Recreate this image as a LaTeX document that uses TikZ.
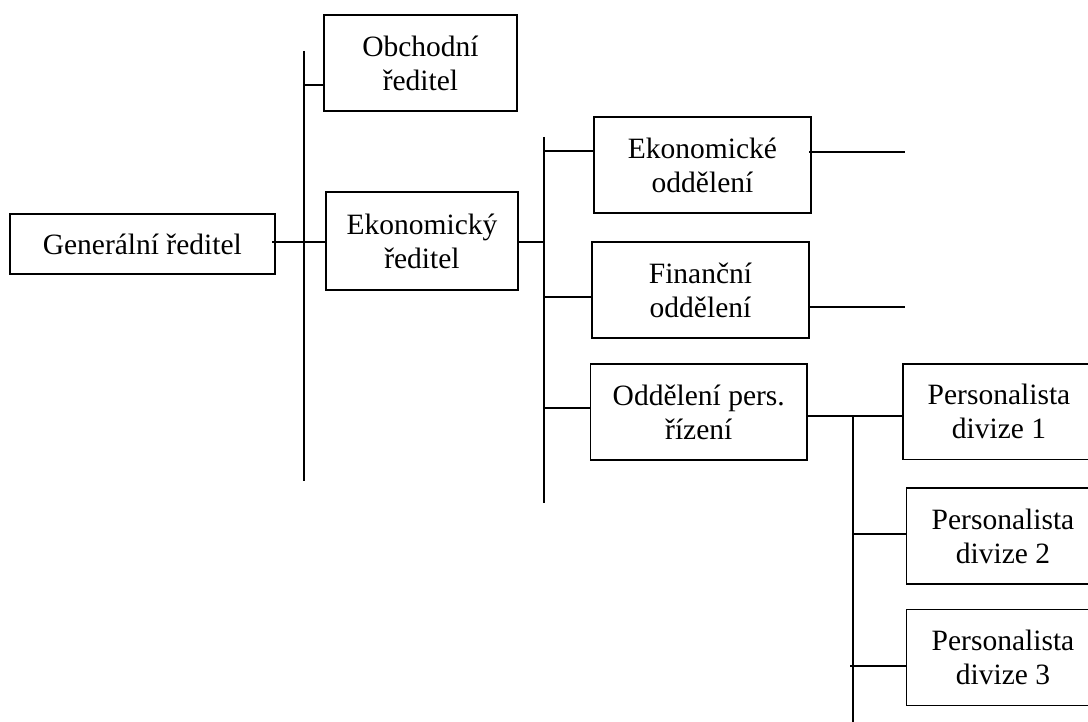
\documentclass[tikz,border=0pt]{standalone}
\usepackage{fontspec}
\setmainfont{Liberation Serif}
\tikzset{
  orgbox/.style={draw=black, line width=1.8pt, inner sep=0pt, align=center,
    font=\fontsize{29.5}{34}\selectfont},
  link/.style={draw=black, line width=1.8pt}
}
\begin{document}
\begin{tikzpicture}[x=1pt,y=-1pt]
\useasboundingbox (0,0) rectangle (1088,722);
\clip (0,0) rectangle (1088,722);
\fill[white] (0,0) rectangle (1088,722);

% boxes
\node[orgbox, minimum width=265pt, minimum height=60pt] (gen) at (142.3,244) {Generální ředitel};
\node[orgbox, minimum width=193pt, minimum height=96pt] (obch) at (420.5,63) {Obchodní\\ředitel};
\node[orgbox, minimum width=192pt, minimum height=98pt] (ekr) at (422,241) {Ekonomický\\ředitel};
\node[orgbox, minimum width=217pt, minimum height=96pt] (eko) at (702.5,165) {Ekonomické\\oddělení};
\node[orgbox, minimum width=217pt, minimum height=96pt] (fin) at (700.5,290) {Finanční\\oddělení};
\node[orgbox, minimum width=216.5pt, minimum height=96pt] (odd) at (698.75,412) {Oddělení pers.\\řízení};
\node[orgbox, minimum width=192pt, minimum height=95.5pt] (p1) at (999,411.75) {Personalista\\divize 1};
\node[orgbox, minimum width=193pt, minimum height=96pt] (p2) at (1003,536) {Personalista\\divize 2};
\node[orgbox, minimum width=193pt, minimum height=96pt] (p3) at (1003,657.5) {Personalista\\divize 3};

% bus lines
\coordinate (b1top) at (304,51);
\coordinate (b1bot) at (304,481);
\coordinate (b2top) at (544,137);
\coordinate (b2bot) at (544,503);
\coordinate (b3top) at (853,416);
\coordinate (b3bot) at (853,722);
\draw[link] (b1top) -- (b1bot);
\draw[link] (b2top) -- (b2bot);
\draw[link] (b3top) -- (b3bot);

% branch points
\coordinate (jgen) at (272,242);
\coordinate (jobch) at (304,85);
\coordinate (jekr) at (544,242);
\coordinate (jeko) at (544,151);
\coordinate (jfin) at (544,297);
\coordinate (jodd) at (544,408);
\coordinate (jp1) at (807,416);
\coordinate (jp2) at (853,534);
\coordinate (jp3) at (850,666);
\coordinate (eeko) at (809,152);
\coordinate (feko) at (905,152);
\coordinate (efin) at (809,307);
\coordinate (ffin) at (905,307);

% connectors
\draw[link] (jgen) -- (jgen -| ekr.west);
\draw[link] (jobch) -- (jobch -| obch.west);
\draw[link] (jekr -| ekr.east) -- (jekr);
\draw[link] (jeko) -- (jeko -| eko.west);
\draw[link] (jfin) -- (jfin -| fin.west);
\draw[link] (jodd) -- (jodd -| odd.west);
\draw[link] (jp1) -- (jp1 -| p1.west);
\draw[link] (jp2) -- (jp2 -| p2.west);
\draw[link] (jp3) -- (jp3 -| p3.west);
\draw[link] (eeko) -- (feko);
\draw[link] (efin) -- (ffin);
\end{tikzpicture}
\end{document}
